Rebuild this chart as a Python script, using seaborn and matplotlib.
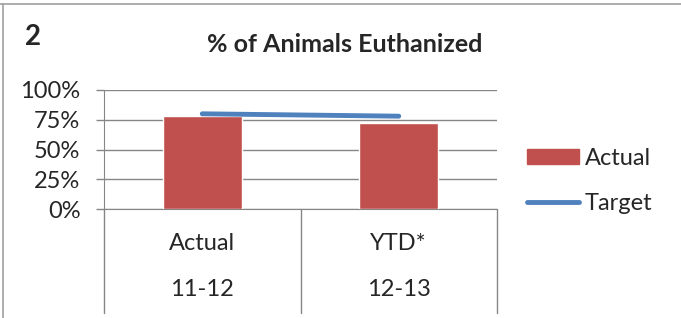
import numpy as np
import pandas as pd
import matplotlib
matplotlib.use('Agg')
import matplotlib.pyplot as plt
import seaborn as sns
from matplotlib.lines import Line2D
from matplotlib.patches import Patch
from matplotlib.ticker import PercentFormatter

# -- Data --------------------------------------------------------------------
periods   = ['Actual', 'YTD*']
years     = ['11-12', '12-13']
actual    = [0.78, 0.72]
target    = [0.80, 0.78]
y_ticks   = [0, 0.25, 0.5, 0.75, 1.0]

BAR_COLOR  = '#C0504D'
LINE_COLOR = '#4F81BD'
GRID_COLOR = '#868686'
FS = 17

df = pd.DataFrame({'period': periods, 'year': years,
                   'Actual': actual, 'Target': target})
df['pos'] = np.arange(len(df))

sns.set_style('white')
plt.rcParams['font.family'] = ['Lato', 'DejaVu Sans']

fig = plt.figure(figsize=(6.81, 3.18), dpi=100)
ax = fig.add_axes([104 / 681, 1 - 209 / 318, 393 / 681, 119 / 318])

sns.barplot(data=df, x='pos', y='Actual', color=BAR_COLOR, width=0.4,
            saturation=1, ax=ax, zorder=3)
sns.lineplot(data=df, x='pos', y='Target', color=LINE_COLOR, lw=3.5,
             solid_capstyle='round', ax=ax, zorder=4)

ax.set_xlim(-0.5, len(df) - 0.5)
ax.set_ylim(0, 1)
ax.set_yticks(y_ticks)
ax.yaxis.set_major_formatter(PercentFormatter(1.0, decimals=0))
ax.tick_params(axis='y', labelsize=FS, length=6, color=GRID_COLOR, width=1,
               left=True, pad=11)
ax.set_xticks([])
ax.set_xlabel('')
ax.set_ylabel('')
ax.grid(axis='y', color=GRID_COLOR, lw=1, zorder=0)
ax.set_axisbelow(True)
for s in ['top', 'right']:
    ax.spines[s].set_visible(False)
ax.spines['left'].set_color(GRID_COLOR)
ax.spines['bottom'].set_color(GRID_COLOR)

# two-level category labels below the axis
for i, row in df.iterrows():
    ax.text(row['pos'], -0.29, row['period'], transform=ax.get_xaxis_transform(),
            ha='center', va='center', fontsize=FS)
    ax.text(row['pos'], -0.68, row['year'], transform=ax.get_xaxis_transform(),
            ha='center', va='center', fontsize=FS)
for b in np.arange(len(df) + 1) - 0.5:
    ax.axvline(b, ymin=-0.87, ymax=0, color=GRID_COLOR, lw=1, clip_on=False)

# legend
handles = [Patch(facecolor=BAR_COLOR, edgecolor=BAR_COLOR),
           Line2D([], [], color=LINE_COLOR, lw=3.5, solid_capstyle='round')]
fig.legend(handles, ['Actual', 'Target'], loc='center left',
           bbox_to_anchor=(527 / 681, 1 - 181 / 318), frameon=False,
           fontsize=FS, handlelength=2.2, handleheight=0.6,
           handletextpad=0.25, labelspacing=1.0, borderpad=0,
           borderaxespad=0)

# titles
fig.text(345 / 681, 1 - 44 / 318, '% of Animals Euthanized', ha='center',
         va='center', fontsize=18, fontweight='bold')
fig.text(33 / 681, 1 - 37 / 318, '2', ha='center', va='center',
         fontsize=20, fontweight='bold')

# outer frame lines
fig.add_artist(Line2D([0, 1], [1 - 4 / 318, 1 - 4 / 318], color='#A0A0A0', lw=1.2))
fig.add_artist(Line2D([3 / 681, 3 / 681], [0, 1 - 4 / 318], color='#A0A0A0', lw=1.2))

plt.savefig('out.png', dpi=100)
plt.close()
